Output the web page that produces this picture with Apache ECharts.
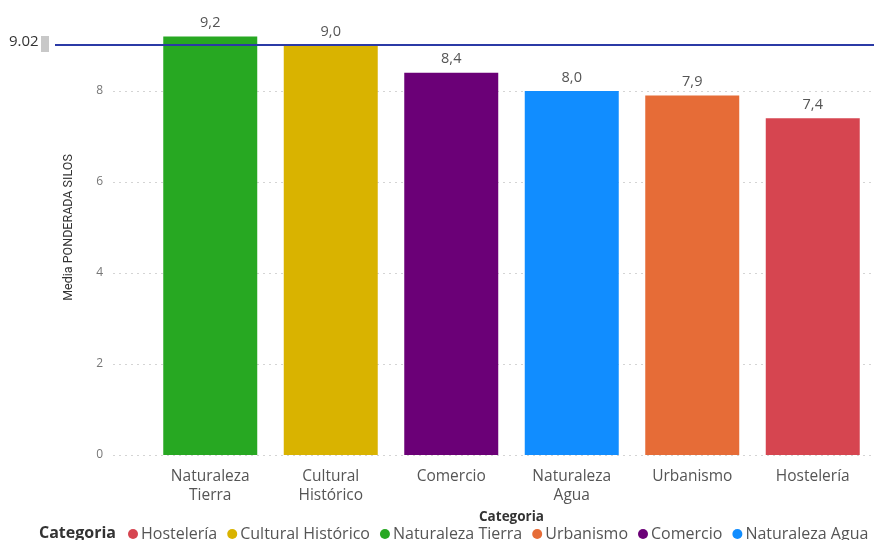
<!DOCTYPE html>
<html>
<head>
<meta charset="utf-8">
<script src="https://cdn.jsdelivr.net/npm/echarts@6/dist/echarts.min.js"></script>
<style>
html,body{margin:0;padding:0;background:#fff;}
#c{width:874px;height:540px;}
</style>
</head>
<body>
<div id="c"></div>
<script>
const categories = ['Naturaleza\nTierra', 'Cultural\nHistórico', 'Comercio', 'Naturaleza\nAgua', 'Urbanismo', 'Hostelería'];
const seriesNames = ['Naturaleza Tierra', 'Cultural Histórico', 'Comercio', 'Naturaleza Agua', 'Urbanismo', 'Hostelería'];
const values = [9.2, 9.0, 8.4, 8.0, 7.9, 7.4];
const legendOrder = ['Hostelería', 'Cultural Histórico', 'Naturaleza Tierra', 'Urbanismo', 'Comercio', 'Naturaleza Agua'];
const refValue = 9.02;
const yTicks = [0, 2, 4, 6, 8];

const palette = ['#27a822', '#d9b300', '#6b0077', '#118dff', '#e66c37', '#d64550'];
const FONT = '"Open Sans", "Noto Sans", sans-serif';

const chart = echarts.init(document.getElementById('c'), null, {renderer: 'canvas'});

const barSeries = seriesNames.map((name, i) => ({
  name: name,
  type: 'bar',
  xAxisIndex: 1,
  yAxisIndex: 1,
  stack: 'total',
  barWidth: '78%',
  itemStyle: {color: palette[i]},
  label: {
    show: true,
    position: 'top',
    distance: 6,
    color: '#555',
    fontSize: 14.5,
    fontFamily: FONT,
    formatter: p => p.value.toFixed(1).replace('.', ',')
  },
  data: values.map((v, j) => j === i ? v : '-')
}));

const option = {
  animation: false,
  textStyle: {fontFamily: FONT},
  grid: [
    {left: 113, right: 0, top: 0, bottom: 85},
    {left: 150, right: 1, top: 0, bottom: 85},
    {left: 55, right: 0, top: 0, bottom: 85}
  ],
  xAxis: [
    {type: 'category', gridIndex: 0, data: ['a'], show: false},
    {
      type: 'category', gridIndex: 1, data: categories,
      axisLine: {show: false}, axisTick: {show: false},
      axisLabel: {color: '#555', fontSize: 15.5, lineHeight: 19, margin: 12, fontFamily: FONT, interval: 0},
      name: 'Categoria', nameLocation: 'middle', nameGap: 48,
      nameTextStyle: {color: '#333', fontSize: 13.5, fontWeight: 'bold', fontFamily: FONT}
    },
    {type: 'category', gridIndex: 2, data: ['a'], show: false}
  ],
  yAxis: [
    {
      type: 'value', gridIndex: 0, min: 0, max: 10, interval: 2,
      axisLine: {show: false}, axisTick: {show: false},
      axisLabel: {
        color: '#777', fontSize: 12, margin: 10, fontFamily: FONT,
        formatter: v => yTicks.indexOf(v) >= 0 ? String(v) : ''
      },
      splitLine: {lineStyle: {type: [2, 4], color: ['#d4d4d4', '#d4d4d4', '#d4d4d4', '#d4d4d4', '#d4d4d4', 'rgba(0,0,0,0)']}},
      name: 'Media PONDERADA SILOS', nameLocation: 'middle', nameGap: 38,
      nameTextStyle: {color: '#333', fontSize: 12.5, fontFamily: 'Roboto, sans-serif'}
    },
    {type: 'value', gridIndex: 1, min: 0, max: 10, interval: 2, show: false, splitLine: {show: false}},
    {type: 'value', gridIndex: 2, min: 0, max: 10, interval: 2, show: false, splitLine: {show: false}}
  ],
  legend: {
    data: legendOrder,
    left: 128,
    top: 525,
    padding: 0,
    icon: 'circle',
    itemWidth: 10,
    itemHeight: 10,
    itemGap: 10,
    textStyle: {color: '#555', fontSize: 16, lineHeight: 18, fontFamily: FONT, padding: [0, 0, 0, -2]}
  },
  graphic: [
    {type: 'text', left: 39, top: 525, style: {text: 'Categoria', font: 'bold 16px ' + FONT, fill: '#333'}},
    {type: 'text', left: 9, top: 34, style: {text: refValue.toFixed(2), font: '15px ' + FONT, fill: '#333'}},
    {type: 'rect', shape: {x: 41, y: 36, width: 8, height: 16}, style: {fill: '#c8c8c8'}}
  ],
  series: [
    {
      name: 'ref', type: 'line', xAxisIndex: 2, yAxisIndex: 2, data: ['-'],
      symbol: 'none', silent: true,
      markLine: {
        symbol: 'none', silent: true, label: {show: false},
        lineStyle: {color: '#2b3aa6', width: 2, type: 'solid'},
        data: [{yAxis: refValue}]
      }
    }
  ].concat(barSeries)
};
chart.setOption(option);
</script>
</body>
</html>
